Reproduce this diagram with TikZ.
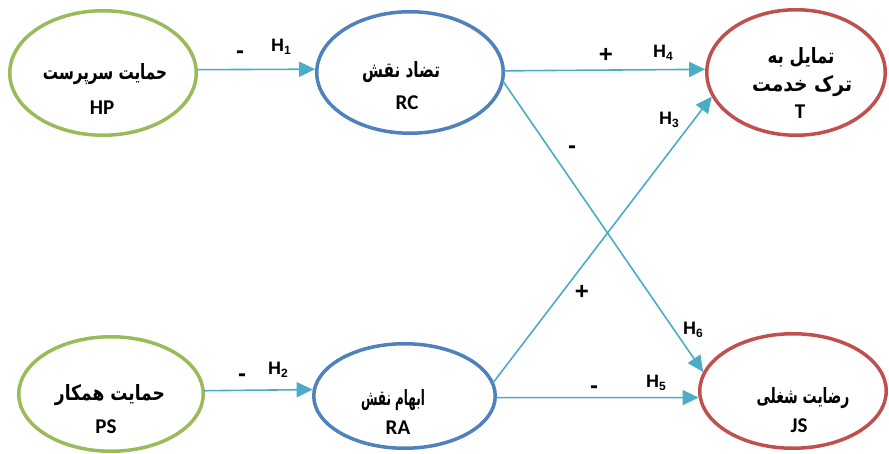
\documentclass[tikz,border=0pt]{standalone}
\usepackage{fontspec}
\usepackage{graphicx}
\usetikzlibrary{shapes.geometric,arrows.meta}
\TeXXeTstate=1
\newfontfamily\fafont[Script=Arabic]{DejaVu Sans}
\newfontfamily\latfont{Carlito}
\newfontfamily\hfont{Liberation Sans}
\definecolor{cgreen}{HTML}{9BBB59}
\definecolor{cblue}{HTML}{4F81BD}
\definecolor{cred}{HTML}{C0504D}
\definecolor{cteal}{HTML}{4BACC6}
\newcommand\hlab[1]{H\raisebox{-0.35ex}{\fontsize{12}{12}\selectfont #1}}
\newcommand\fa[2]{\resizebox{#1}{1.08\height}{\fafont\bfseries #2}}
\tikzset{
  ell/.style={ellipse, line width=3.5pt, inner sep=0pt},
  gell/.style={ell, draw=cgreen},
  bell/.style={ell, draw=cblue},
  rell/.style={ell, draw=cred},
  fatext/.style={font=\fontsize{19.5}{21}\selectfont, inner sep=0pt},
  latext/.style={font=\latfont\bfseries\fontsize{21}{22}\selectfont, inner sep=0pt},
  hl/.style={font=\hfont\bfseries\fontsize{18}{18}\selectfont, inner sep=0pt},
  sg/.style={font=\hfont\bfseries\fontsize{24}{24}\selectfont, inner sep=0pt},
  arr/.style={draw=cteal, line width=1.6pt, -{Triangle[length=16pt,width=15pt]}, shorten <=-1pt}
}
\begin{document}
\begin{tikzpicture}[x=1pt,y=-1pt]
\useasboundingbox (0,0) rectangle (889,454);
% ellipses
\node[gell, minimum width=186.5pt, minimum height=124.5pt] (hp) at (103,73) {};
\node[bell, minimum width=186.5pt, minimum height=121.5pt] (rc) at (410,72.5) {};
\node[rell, minimum width=178.5pt, minimum height=125.5pt] (t) at (796,72.5) {};
\node[gell, minimum width=184.5pt, minimum height=114.5pt] (ps) at (111,394) {};
\node[bell, minimum width=181.5pt, minimum height=104.5pt] (ra) at (404.5,396) {};
\node[rell, minimum width=186.5pt, minimum height=114.5pt] (js) at (793,391) {};
% texts
\node[fatext] (hpa) at (105,74) {\fa{124pt}{\beginR حمایت سرپرست\endR}};
\node[latext] (hpb) at (102,108) {HP};
\node[fatext] (rca) at (401,72) {\fa{78pt}{\beginR تضاد نقش\endR}};
\node[latext] (rcb) at (407,103) {RC};
\node[fatext] (ta) at (801,57) {\fa{67pt}{\beginR تمایل به\endR}};
\node[fatext] (tb) at (802,86) {\fa{100pt}{\beginR ترک خدمت\endR}};
\node[latext] (tc) at (800,112) {T};
\node[fatext] (psa) at (110,395) {\fa{110pt}{\beginR حمایت همکار\endR}};
\node[latext] (psb) at (106,427) {PS};
\node[fatext] (raa) at (393,400) {\fa{64pt}{\beginR ابهام نقش\endR}};
\node[latext] (rab) at (398,428) {RA};
\node[fatext] (jsa) at (803,398) {\fa{93pt}{\beginR رضایت شغلی\endR}};
\node[latext] (jsb) at (799,426) {JS};
% connectors
\draw[arr] (hp.2.4) -- (rc.178);
\draw[arr] (ps.2.4) -- (ra.176.3);
\draw[arr] (rc.1.5) -- (t.178.4);
\draw[arr] (ra.-1.2) -- (js.184.2);
\draw[arr] (rc.-6) -- (js.168);
\draw[arr] (ra.9) -- (t.196.5);
% labels
\node[sg] (s1) at (240,55) {-};
\node[hl] (h1) at (281,47) {\hlab{1}};
\node[sg] (s2) at (242,378) {-};
\node[hl] (h2) at (278,370) {\hlab{2}};
\node[sg] (s4) at (606,55) {+};
\node[hl] (h4) at (663,53) {\hlab{4}};
\node[sg] (s6) at (572,150) {-};
\node[hl] (h6) at (693,330) {\hlab{6}};
\node[sg] (s3) at (582,292) {+};
\node[hl] (h3) at (669,120) {\hlab{3}};
\node[sg] (s5) at (594,390) {-};
\node[hl] (h5) at (656,383) {\hlab{5}};
\end{tikzpicture}
\end{document}
